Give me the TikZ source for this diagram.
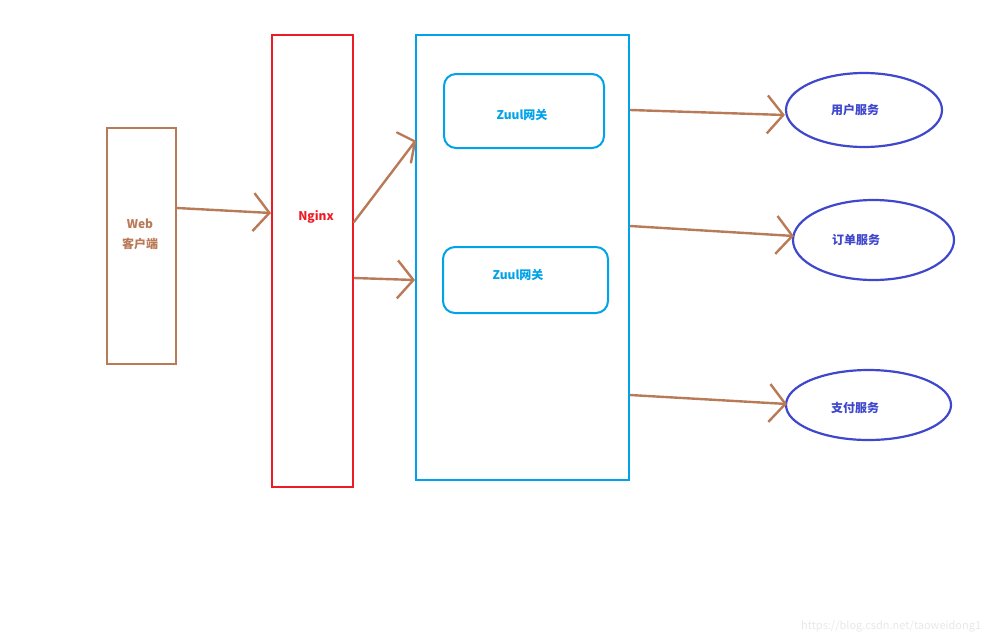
\documentclass[tikz,border=0pt]{standalone}
\usepackage{fontspec}
\setmainfont{Noto Sans CJK SC}
\usetikzlibrary{arrows.meta,shapes.geometric}
\definecolor{brn}{RGB}{185,122,87}
\definecolor{rd}{RGB}{237,28,36}
\definecolor{bl}{RGB}{0,162,232}
\definecolor{ind}{RGB}{63,72,204}
\definecolor{wm}{RGB}{232,232,232}
\tikzset{
  box/.style={draw, line width=2pt, inner sep=0pt},
  lbl/.style={font=\bfseries\fontsize{12}{20}\selectfont, inner sep=0pt, align=center},
  svc/.style={ellipse, draw=ind, line width=2.2pt, inner sep=0pt},
  svct/.style={text=ind, inner sep=0pt, font=\bfseries\fontsize{12}{14}\selectfont},
  arr/.style={draw=brn, line width=2.4pt, -{Straight Barb[length=16pt,width=38pt,line width=2.4pt]}},
  arrp/.style={draw=brn, line width=2.4pt, line cap=round}
}
\begin{document}
\begin{tikzpicture}[x=1pt,y=-1pt]
\useasboundingbox (0,0) rectangle (1000,642);
\node[box, draw=brn, minimum width=69pt, minimum height=236pt] (web) at (141.5,246) {};
\node[lbl, text=brn] (webt) at (140,234) {Web\\客户端};
\node[box, draw=rd, minimum width=81pt, minimum height=452pt] (nginx) at (312.5,261) {};
\node[lbl, text=rd] (nginxt) at (316,217) {Nginx};
\node[box, draw=bl, minimum width=213pt, minimum height=445pt] (outer) at (522.5,257.5) {};
\node[box, draw=bl, rounded corners=12pt, minimum width=160pt, minimum height=74pt] (z1) at (524,111) {};
\node[lbl, text=bl] (z1t) at (522,115) {Zuul网关};
\node[box, draw=bl, rounded corners=12pt, minimum width=165pt, minimum height=66pt] (z2) at (525.5,280) {};
\node[lbl, text=bl] (z2t) at (518,275) {Zuul网关};
\node[svc, minimum width=156pt, minimum height=74pt] (user) at (864,110) {};
\node[svct] (usert) at (855,110) {用户服务};
\node[svc, minimum width=161pt, minimum height=80pt] (order) at (873.5,240) {};
\node[svct] (ordert) at (856,240) {订单服务};
\node[svc, minimum width=165pt, minimum height=70pt] (pay) at (868.5,405) {};
\node[svct] (payt) at (855,408) {支付服务};
\draw[arr] ([yshift=38pt]web.east) -- ([yshift=48pt]nginx.west);
\draw[arrp] ([yshift=39pt]nginx.east) -- ([yshift=116pt]outer.west) coordinate (t2)
  (t2) -- ++(-18,-9) (t2) -- ++(-4,21);
\draw[arr] ([yshift=-17pt]nginx.east) -- ([yshift=-22.5pt]outer.west);
\draw[arr] ([yshift=147.5pt]outer.east) -- ([yshift=-5pt]user.west);
\draw[arr] ([yshift=31.5pt]outer.east) -- ([xshift=2pt,yshift=4pt]order.west);
\draw[arr] ([yshift=-137.5pt]outer.east) -- ([xshift=2pt,yshift=1pt]pay.west);
\node[anchor=base west, text=wm, font=\fontsize{11}{13}\selectfont, inner sep=0pt] (wmk) at (801,629) {https://blog.csdn.net/taoweidong1};
\end{tikzpicture}
\end{document}
